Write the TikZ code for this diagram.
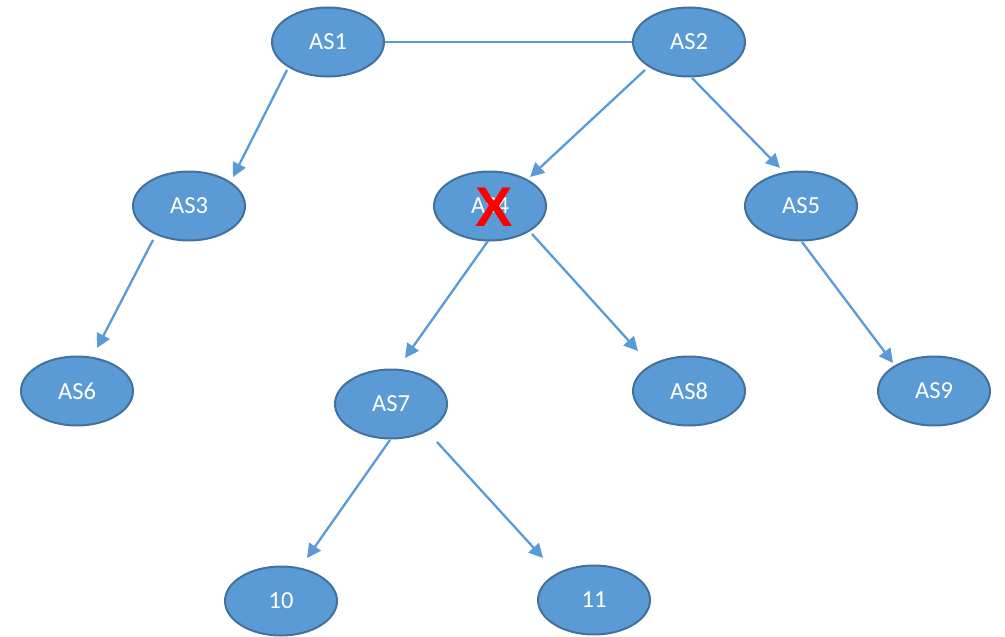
\documentclass[tikz,border=0pt]{standalone}
\usepackage{fontspec}
\setmainfont{Carlito}
\newfontfamily\xfont{Liberation Sans}
\usetikzlibrary{shapes.geometric,arrows.meta,calc}
\definecolor{nodefill}{HTML}{5B9BD5}
\definecolor{nodeline}{HTML}{41719C}
\definecolor{edgecol}{HTML}{5B9BD5}
\tikzset{
  asnode/.style={ellipse, draw=nodeline, fill=nodefill, line width=2pt,
    minimum width=112pt, minimum height=69pt, inner sep=0pt,
    text=white, font=\fontsize{24.5}{26}\selectfont},
  link/.style={draw=edgecol, line width=2.3pt},
  arr/.style={link, -{Triangle[length=14pt,width=14pt]}},
}
\begin{document}
\begin{tikzpicture}[x=1pt,y=-1pt]
\useasboundingbox (0,0) rectangle (1005,637);
\node[asnode] (as1) at (328,42) {AS1};
\node[asnode] (as2) at (689,42) {AS2};
\node[asnode] (as3) at (189,206) {AS3};
\node[asnode] (as4) at (490,206) {AS4};
\node[asnode] (as5) at (801,206) {AS5};
\node[asnode] (as6) at (77,391) {AS6};
\node[asnode] (as7) at (391,404) {AS7};
\node[asnode] (as8) at (689,391) {AS8};
\node[asnode] (as9) at (934,391) {AS9};
\node[asnode] (n10) at (281,601) {10};
\node[asnode] (n11) at (594,600) {11};
\node[text=red, font=\xfont\bfseries\fontsize{56}{56}\selectfont, inner sep=0pt] (cross) at (494,207) {X};
\draw[link] (as1.east) -- (as2.west);
\draw[arr] ($(as1)+(-41,28)$) -- ($(as3)+(44,-29)$);
\draw[arr] ($(as2)+(-44,28)$) -- ($(as4)+(40,-29)$);
\draw[arr] ($(as2)+(3,36)$) -- ($(as5)+(-21,-38)$);
\draw[arr] ($(as3)+(-36,34)$) -- ($(as6)+(20,-43)$);
\draw[arr] ($(as4)+(-2,35)$) -- ($(as7)+(14,-46)$);
\draw[arr] ($(as4)+(42,28)$) -- ($(as8)+(-51,-40)$);
\draw[arr] ($(as5)+(1,36)$) -- ($(as9)+(-41,-28)$);
\draw[arr] ($(as7)+(-1,36)$) -- ($(n10)+(26,-43)$);
\draw[arr] ($(as7)+(46,38)$) -- ($(n11)+(-51,-42)$);
\end{tikzpicture}
\end{document}
